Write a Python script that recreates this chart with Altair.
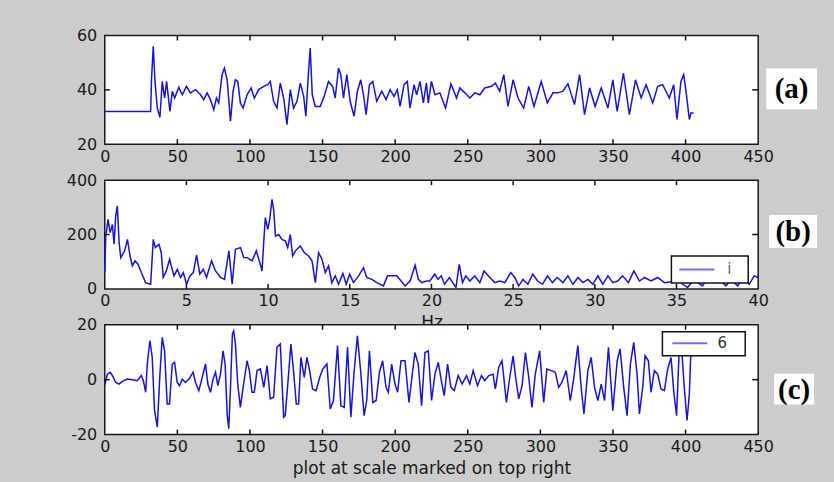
import altair as alt
import pandas as pd

# ---------------- data ----------------
# panel (a): sample index vs value
a_x = [0, 31.6, 32.2, 33.4, 34.6, 36.2, 38, 39.6, 41.2, 42.6,
       44.9, 46.5, 48.1, 51, 53.4, 56.3, 59, 62.5, 66, 68.2,
       70.5, 72.8, 75.1, 76.9, 78.5, 80.8, 82.4, 84.3, 86.6, 88.4,
       90, 91.6, 93.4, 95.3, 98, 100.8, 103, 106, 109.5, 112.2,
       114, 116.3, 118.6, 120.9, 123.2, 125.5, 127.8, 130, 132.4, 134.7,
       137, 138.5, 139.9, 141.5, 142.9, 145, 148.4, 151.1, 154.1, 156.9,
       158.7, 161, 162.6, 164.4, 166.7, 169, 171.7, 174, 176.3, 178.2,
       180, 182.3, 184.6, 187.3, 190.8, 193.7, 196.5, 199.2, 201.5, 203.4,
       206.1, 208.4, 210.2, 213, 214.8, 217.1, 219.4, 221.5, 222.8, 225,
       227.4, 230.8, 234.7, 238.4, 242.3, 244.5, 248, 251.4, 254.9, 258.3,
       261.7, 266.3, 269, 272, 274.8, 277.7, 281.2, 284.6, 288.5, 292,
       295.6, 300.6, 304.8, 308.7, 312.1, 315.5, 319, 323.5, 327, 330.4,
       333.9, 337.7, 341.9, 346.5, 349.9, 352.9, 357.2, 361.3, 365.5, 369.4,
       372.8, 377.4, 380.8, 384.2, 388.8, 391.8, 394.1, 396.8, 398.7, 400.3,
       402.6, 403.7, 405.5]
a_y = [32, 32, 43.7, 56, 43.1, 33.3, 29.9, 43.1, 37, 43.1,
       32.1, 39.5, 37, 40.9, 38.2, 41.3, 38.9, 40.1, 38.2, 36.4,
       38.9, 36.4, 32.7, 37, 35.2, 45.6, 48, 43.7, 28.5, 39.5,
       43.7, 43.1, 35.2, 33.3, 38.2, 40.7, 37, 40.1, 41.3, 41.9,
       43.1, 35.8, 33.3, 42.5, 37, 27.2, 40.1, 33.3, 35.8, 42.5,
       37.6, 30.3, 43.1, 55.4, 38.2, 33.9, 33.9, 37.6, 43.1, 41.3,
       37, 48, 45.6, 37, 45.6, 35.8, 30.3, 39.5, 43.7, 38.2,
       30.9, 41.9, 43.1, 35.8, 39.5, 36.4, 40.1, 37.6, 40.1, 33.9,
       41.9, 43.1, 33.3, 41.9, 38.2, 43.1, 35.2, 42.5, 35.2, 43.1,
       38.2, 38.9, 33.3, 42.2, 37, 40.7, 38.9, 37, 38.9, 38.2,
       40.7, 41.3, 42.5, 39.5, 45.6, 33.9, 43.7, 37, 33.3, 41.3,
       33.9, 43.1, 35.2, 38.9, 38.9, 39.5, 42.2, 34.6, 45.6, 30.9,
       40.7, 33.9, 40.7, 33.3, 43.7, 32.1, 46.2, 30.9, 43.7, 37,
       41.9, 35.2, 41.3, 41.9, 37, 41.9, 29.1, 43.1, 45.6, 39.5,
       29.1, 31.5, 31.5]

# panel (b): spectrum, Hz vs amplitude
b_x = [0, 0.06, 0.2, 0.33, 0.47, 0.57, 0.67, 0.77, 0.88, 0.98,
       1.22, 1.39, 1.55, 1.69, 1.85, 2.04, 2.24, 2.5, 2.81, 2.97,
       3.1, 3.32, 3.46, 3.58, 3.77, 3.97, 4.07, 4.24, 4.44, 4.64,
       4.81, 5.01, 5.21, 5.42, 5.62, 5.82, 6.03, 6.23, 6.54, 6.78,
       7.09, 7.33, 7.6, 7.8, 8.0, 8.31, 8.51, 8.72, 9.02, 9.28,
       9.49, 9.63, 9.73, 9.83, 9.98, 10.1, 10.24, 10.34, 10.45, 10.65,
       10.85, 11.06, 11.2, 11.36, 11.5, 11.67, 11.97, 12.22, 12.48, 12.69,
       12.89, 13.09, 13.3, 13.5, 13.7, 13.9, 14.11, 14.31, 14.58, 14.78,
       14.99, 15.23, 15.54, 15.84, 16.04, 16.35, 16.66, 17.06, 17.31, 17.88,
       18.39, 18.69, 19.0, 19.2, 19.4, 19.7, 19.9, 20.2, 20.4, 20.6,
       20.8, 21.1, 21.3, 21.5, 21.7, 21.9, 22.1, 22.35, 22.65, 22.96,
       23.22, 23.57, 23.88, 24.18, 24.49, 24.85, 25.1, 25.34, 25.6, 25.9,
       26.2, 26.5, 26.8, 27.1, 27.4, 27.7, 28.05, 28.35, 28.66, 28.97,
       29.27, 29.58, 29.88, 30.19, 30.49, 30.8, 31.1, 31.4, 31.7, 32.06,
       32.39, 32.73, 33.04, 33.44, 33.85, 34.26, 34.67, 35.07, 35.38, 35.68,
       35.99, 36.3, 36.6, 36.9, 37.3, 37.7, 38.03, 38.33, 38.74, 39.1,
       39.45, 39.76, 40]
b_y = [60, 190, 256, 207, 237, 164, 268, 305, 170, 115,
       140, 182, 121, 85, 103, 91, 60, 23, 17, 182,
       152, 164, 133, 42, 66, 109, 85, 48, 72, 42,
       60, 17, 48, 60, 124, 54, 72, 42, 103, 66,
       42, 35, 140, 17, 146, 152, 115, 115, 103, 140,
       97, 66, 170, 262, 219, 256, 329, 292, 194, 200,
       182, 176, 152, 200, 121, 140, 158, 133, 121, 103,
       23, 133, 109, 60, 85, 23, 48, 17, 57, 17,
       54, 23, 48, 78, 42, 35, 23, 11, 48, 48,
       11, 29, 87, 35, 23, 29, 29, 54, 35, 48,
       17, 42, 23, 5, 90, 23, 48, 29, 48, 23,
       66, 42, 23, 29, 23, 60, 42, 11, 35, 17,
       54, 29, 17, 48, 23, 42, 23, 48, 17, 42,
       23, 35, 17, 48, 17, 48, 23, 29, 48, 23,
       66, 29, 42, 29, 42, 23, 26, 35, 17, 5,
       29, 23, 11, 42, 29, 29, 11, 35, 11, 42,
       17, 48, 42]

# panel (c): filtered signal
c_x = [0, 1.8, 3.7, 5.3, 7.6, 9.8, 12.1, 15.6, 19, 22.4,
       25.2, 26.6, 28.2, 29.3, 31.1, 32.7, 34.3, 36.2, 38, 39.6,
       41.2, 43, 44.6, 46.5, 48.1, 49.9, 51.5, 53.4, 55.6, 57.9,
       60.9, 62.5, 64.8, 67.1, 69.4, 71, 72.8, 74.6, 76.3, 77.9,
       79.7, 81.5, 82.9, 84.3, 85.4, 86.6, 87.9, 88.8, 90, 91.6,
       93.4, 95.3, 98, 99.6, 101.4, 103, 104.9, 107.2, 109.5, 111.8,
       114, 116.3, 118.6, 120.9, 123.2, 124.3, 126.6, 128.2, 130, 131.9,
       133.5, 135.1, 137.4, 139.2, 141.1, 143.1, 145.6, 148, 150.2, 153,
       155.3, 157.5, 160.3, 162.6, 164.9, 167.2, 169.5, 171.7, 174, 176.3,
       178.6, 180.4, 182.3, 184.6, 186.9, 189.2, 191.4, 193.7, 195.3, 197.6,
       199.9, 201.7, 204, 206.8, 209.5, 211.4, 213.6, 215.9, 218.2, 220.5,
       222.8, 225.1, 227.4, 229.7, 232, 233.8, 236.1, 238.4, 240.7, 243.4,
       246.1, 249.1, 251.4, 253.7, 256.7, 259.4, 261.7, 264.5, 267.4, 269,
       271.3, 273.6, 276.6, 278.9, 281.2, 283, 285.1, 287.4, 289.7, 292,
       294.2, 296.5, 299.5, 302.3, 304.5, 307.5, 310.3, 312.6, 314.8, 317.8,
       320.6, 322.9, 325.8, 328.1, 330, 332.7, 335, 337.3, 339.6, 341.9,
       344.2, 346.9, 349.9, 352.9, 354.9, 357.4, 359.7, 362, 364.3, 366.6,
       368.2, 370.5, 372.1, 374.4, 376.2, 378.5, 380.8, 383.1, 385.4, 387.7,
       390, 391.8, 393.8, 395.7, 397.3, 399.1, 401, 402.6, 403.7, 404.8]
c_y = [-2, 2, 2.7, 1.5, -1, -1.6, -0.6, 0.2, 0, -0.4,
       1.5, -0.4, -4.6, 5.7, 14.2, 8.1, -11.3, -17.3, 2, 15.4,
       10.5, -8.9, -8.9, 5.7, 6.3, -1, -2.2, 0.2, -1, 0.2,
       2.7, -1, -4, 0.8, 5.7, -1.6, -4.6, 0.2, 2.7, -2.2,
       2, 10.5, 5.7, -12.5, -17.9, -2.8, 16.6, 17.8, 13, -1.6,
       -10.1, -2.8, 6.9, 3.3, -4.6, -4.6, 3.3, 3.9, -2.8, 5.1,
       -7, -6.4, 11.8, 13, -13.7, -13.1, 2, 13, 3.3, -8.9,
       -8.9, 8.1, 0.8, 8.1, 3.3, -3.4, -4, 0.8, 3.9, 5.7,
       -10.7, -7.6, 12.4, -9.5, -10.1, 11.8, -13.7, 2.7, 16, 2.7,
       -13.1, -7.6, 10.5, -8.3, -7.6, 2.7, 6.9, -2.8, -4.6, 5.7,
       -1.6, -4.6, 6.9, 6.9, -8.3, 0.2, 9.9, 5.7, -9.5, 9.9,
       10.5, -7.6, 2, 6.3, -1, -5.8, 5.7, -2.8, -4, 1.5,
       -1.6, 1.5, -1.6, 3.3, -2.2, 1.5, -0.4, 1.5, 2, -3.4,
       4.5, 6.9, -8.3, 0.8, 8.7, 0.8, -7, -2.2, 9.9, 0.8,
       -10.1, 2, 10.5, -8.3, 3.9, 3.3, 2.7, -2.8, -1, 3.3,
       -7.6, 0.2, 12.4, -2.8, -12.5, 3.3, 8.1, -2.8, -7.6, -1.6,
       -7.6, 11.8, -11.3, 6.9, 11.2, -2.8, -13.1, 5.7, 13.6, 2,
       -12.5, -2.8, 8.7, 6.9, -4.6, 3.3, 2, -3.4, -4, 3.9,
       8.1, -4, -13.1, 12, 11, -2.8, -14.9, -5.2, 11, 8.5]

# tick values
a_xticks = [0, 50, 100, 150, 200, 250, 300, 350, 400, 450]
a_yticks = [20, 40, 60]
b_xticks = [0, 5, 10, 15, 20, 25, 30, 35, 40]
b_yticks = [0, 200, 400]
c_xticks = [0, 50, 100, 150, 200, 250, 300, 350, 400, 450]
c_yticks = [-20, 0, 20]

# texts
panel_tags = ["(a)", "(b)", "(c)"]
legend_labels = ["i", "6"]
b_xtitle = "Hz"
c_xtitle = "plot at scale marked on top right"

# ---------------- styling ----------------
SANS = "DejaVu Sans"
SERIF = "Liberation Serif"
TXT = "#1a1a1a"
LINE = "#1414dc"
LEG_LINE = "#6f6ff5"
TICK = "#111111"
BG = "#cccccc"
W = 655
TL = 5


def one():
    return pd.DataFrame({"k": [0]})


def panel(xs, ys, xdom, ydom, xticks, yticks, H, tag, tag_box, tag_c,
          xtitle=None, legend=None, extent=False):
    xsc = alt.Scale(domain=xdom, nice=False, zero=False)
    ysc = alt.Scale(domain=ydom, nice=False, zero=False)
    xax = dict(values=xticks, ticks=False, domain=False, grid=False,
               labelFlush=False, labelOverlap=False, labelPadding=4,
               labelFont=SANS, labelFontSize=16, labelColor=TXT,
               labelExpr="'' + datum.value")
    if xtitle:
        xax.update(title=xtitle, titleFont=SANS, titleFontSize=17,
                   titleFontWeight="normal", titleColor=TXT, titleY=26,
                   titleBaseline="top")
    else:
        xax.update(title=None)
    yax = dict(values=yticks, ticks=False, domain=False, grid=False,
               labelPadding=8, labelFont=SANS, labelFontSize=16,
               labelColor=TXT, title=None, labelOverlap=False,
               labelExpr="'' + datum.value")
    X = alt.X("x:Q", scale=xsc, axis=alt.Axis(**xax))
    Y = alt.Y("y:Q", scale=ysc, axis=alt.Axis(**yax))
    df = pd.DataFrame({"x": xs, "y": ys})
    layers = [alt.Chart(df).mark_line(color=LINE, strokeWidth=1.5).encode(x=X, y=Y)]
    if extent:
        layers.append(alt.Chart(one()).mark_rect(opacity=0).encode(
            x=alt.value(-104), x2=alt.value(730),
            y=alt.value(-34), y2=alt.value(448)))
    xt = pd.DataFrame({"x": xticks[1:-1]})
    yt = pd.DataFrame({"y": yticks[1:-1]})
    layers.append(alt.Chart(xt).mark_rule(color=TICK, strokeWidth=1.5).encode(
        x=X, y=alt.value(0), y2=alt.value(TL)))
    layers.append(alt.Chart(xt).mark_rule(color=TICK, strokeWidth=1.5).encode(
        x=X, y=alt.value(H - TL), y2=alt.value(H)))
    layers.append(alt.Chart(yt).mark_rule(color=TICK, strokeWidth=1.5).encode(
        y=Y, x=alt.value(0), x2=alt.value(TL)))
    layers.append(alt.Chart(yt).mark_rule(color=TICK, strokeWidth=1.5).encode(
        y=Y, x=alt.value(W - TL - 1), x2=alt.value(W)))
    if legend:
        label, (bx0, bx1, by0, by1), (lx0, lx1, ly), tx, tcol = legend
        layers.append(alt.Chart(one()).mark_rect(
            fill="white", stroke="#111111", strokeWidth=1.5).encode(
            x=alt.value(bx0), x2=alt.value(bx1), y=alt.value(by0), y2=alt.value(by1)))
        layers.append(alt.Chart(one()).mark_rule(color=LEG_LINE, strokeWidth=2).encode(
            x=alt.value(lx0), x2=alt.value(lx1), y=alt.value(ly)))
        layers.append(alt.Chart(one()).mark_text(
            text=label, font=SANS, fontSize=15, color=tcol, baseline="middle",
            align="center").encode(x=alt.value(tx), y=alt.value(ly)))
    x0, x1, y0, y1 = tag_box
    layers.append(alt.Chart(one()).mark_rect(fill="white").encode(
        x=alt.value(x0), x2=alt.value(x1), y=alt.value(y0), y2=alt.value(y1)))
    layers.append(alt.Chart(one()).mark_text(
        text=tag, font=SERIF, fontSize=29, fontWeight="bold", color="#000000",
        baseline="middle", align="center").encode(
        x=alt.value(tag_c[0]), y=alt.value(tag_c[1])))
    return alt.layer(*layers).properties(width=W, height=H)


pa = panel(a_x, a_y, [0, 450], [20, 60], a_xticks, a_yticks, 109,
           panel_tags[0], (663, 714, 33, 74), (688.5, 54), extent=True)
pb = panel(b_x, b_y, [0, 40], [0, 400], b_xticks, b_yticks, 109,
           panel_tags[1], (666, 714, 35, 68), (690, 52), xtitle=b_xtitle,
           legend=(legend_labels[0], (568, 645, 76, 103), (576, 611, 89.5), 626, "#666666"))
pc = panel(c_x, c_y, [0, 450], [-20, 20], c_xticks, c_yticks, 110,
           panel_tags[2], (671, 711, 49, 80), (691, 65), xtitle=c_xtitle,
           legend=(legend_labels[1], (559, 642, 7, 31), (569, 604, 18.5), 619, "#333333"))

chart = alt.vconcat(pa, pb, pc, spacing=36, bounds="flush").properties(
    padding=0
).configure(background=BG).configure_view(
    stroke="#1a1a1a", strokeWidth=1.5, fill="white"
)

chart.save("out.html", embed_options={"renderer": "svg", "actions": False})
